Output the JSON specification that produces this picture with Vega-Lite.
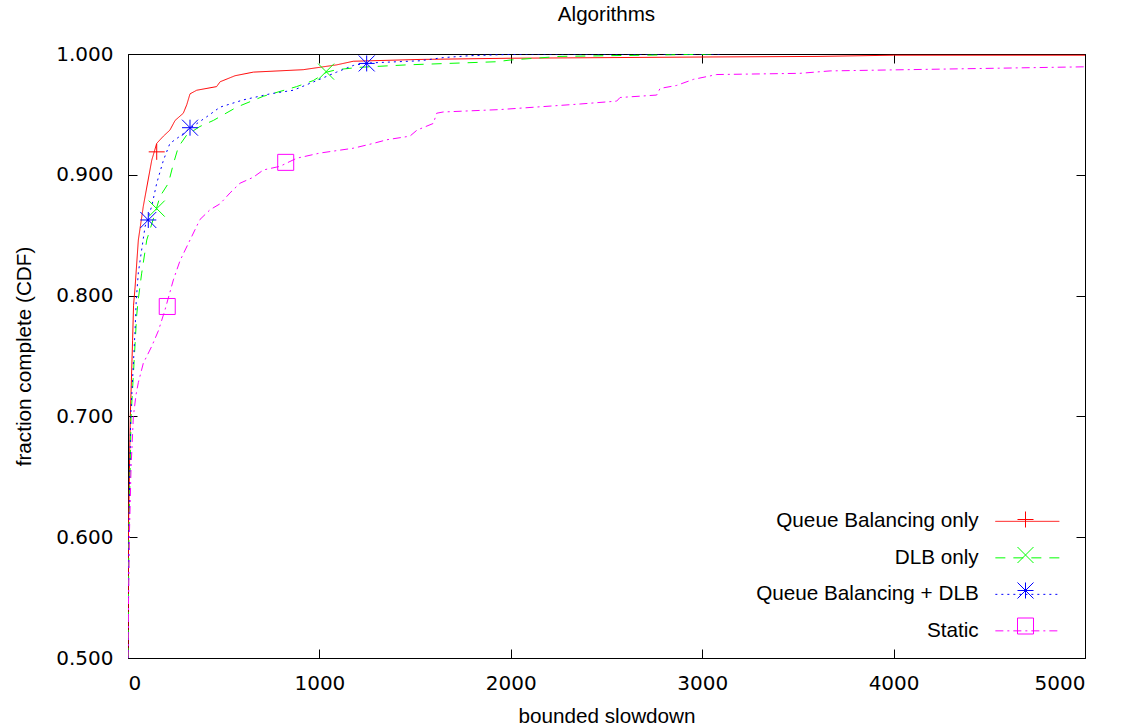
{
  "$schema": "https://vega.github.io/schema/vega-lite/v6.json",
  "width": 957,
  "height": 604,
  "autosize": {"type": "none"},
  "padding": {"left": 128, "top": 54, "right": 37, "bottom": 69},
  "background": "white",
  "title": {"text": "Algorithms", "font": "Liberation Sans", "fontSize": 20.6, "fontWeight": "normal", "color": "black", "baseline": "alphabetic", "offset": 2, "anchor": "middle"},
  "config": {
    "view": {"stroke": "black", "strokeWidth": 1},
    "axis": {"grid": false, "domain": false, "tickColor": "black", "tickWidth": 1, "tickSize": -9, "minExtent": 0, "labelFont": "DejaVu Sans", "labelFontSize": 20, "labelColor": "black", "titleFont": "Liberation Sans", "titleFontSize": 20.7, "titleFontWeight": "normal", "titleColor": "black"}
  },
  "datasets": {
    "curves": [
      {"series": "Queue Balancing only", "x": 0, "y": 0.5},
      {"series": "Queue Balancing only", "x": 2, "y": 0.6},
      {"series": "Queue Balancing only", "x": 12, "y": 0.7},
      {"series": "Queue Balancing only", "x": 24, "y": 0.763},
      {"series": "Queue Balancing only", "x": 29, "y": 0.792},
      {"series": "Queue Balancing only", "x": 37, "y": 0.807},
      {"series": "Queue Balancing only", "x": 54, "y": 0.846},
      {"series": "Queue Balancing only", "x": 80, "y": 0.874},
      {"series": "Queue Balancing only", "x": 124, "y": 0.912},
      {"series": "Queue Balancing only", "x": 150, "y": 0.926},
      {"series": "Queue Balancing only", "x": 185, "y": 0.932},
      {"series": "Queue Balancing only", "x": 219, "y": 0.937},
      {"series": "Queue Balancing only", "x": 246, "y": 0.945},
      {"series": "Queue Balancing only", "x": 289, "y": 0.951},
      {"series": "Queue Balancing only", "x": 307, "y": 0.958},
      {"series": "Queue Balancing only", "x": 324, "y": 0.967},
      {"series": "Queue Balancing only", "x": 359, "y": 0.970},
      {"series": "Queue Balancing only", "x": 463, "y": 0.973},
      {"series": "Queue Balancing only", "x": 481, "y": 0.977},
      {"series": "Queue Balancing only", "x": 559, "y": 0.982},
      {"series": "Queue Balancing only", "x": 655, "y": 0.985},
      {"series": "Queue Balancing only", "x": 915, "y": 0.987},
      {"series": "Queue Balancing only", "x": 1090, "y": 0.991},
      {"series": "Queue Balancing only", "x": 1177, "y": 0.994},
      {"series": "Queue Balancing only", "x": 1526, "y": 0.9955},
      {"series": "Queue Balancing only", "x": 2000, "y": 0.9965},
      {"series": "Queue Balancing only", "x": 3000, "y": 0.9975},
      {"series": "Queue Balancing only", "x": 3600, "y": 0.998},
      {"series": "Queue Balancing only", "x": 4000, "y": 0.999},
      {"series": "Queue Balancing only", "x": 5000, "y": 0.999},
      {"series": "DLB only", "x": 0, "y": 0.5},
      {"series": "DLB only", "x": 5, "y": 0.6},
      {"series": "DLB only", "x": 16, "y": 0.7},
      {"series": "DLB only", "x": 45, "y": 0.783},
      {"series": "DLB only", "x": 53, "y": 0.796},
      {"series": "DLB only", "x": 71, "y": 0.818},
      {"series": "DLB only", "x": 98, "y": 0.846},
      {"series": "DLB only", "x": 141, "y": 0.868},
      {"series": "DLB only", "x": 167, "y": 0.882},
      {"series": "DLB only", "x": 211, "y": 0.893},
      {"series": "DLB only", "x": 237, "y": 0.909},
      {"series": "DLB only", "x": 263, "y": 0.923},
      {"series": "DLB only", "x": 307, "y": 0.933},
      {"series": "DLB only", "x": 376, "y": 0.940},
      {"series": "DLB only", "x": 446, "y": 0.945},
      {"series": "DLB only", "x": 568, "y": 0.956},
      {"series": "DLB only", "x": 707, "y": 0.965},
      {"series": "DLB only", "x": 881, "y": 0.973},
      {"series": "DLB only", "x": 968, "y": 0.978},
      {"series": "DLB only", "x": 1038, "y": 0.985},
      {"series": "DLB only", "x": 1090, "y": 0.987},
      {"series": "DLB only", "x": 1212, "y": 0.989},
      {"series": "DLB only", "x": 1456, "y": 0.991},
      {"series": "DLB only", "x": 1926, "y": 0.9936},
      {"series": "DLB only", "x": 1996, "y": 0.995},
      {"series": "DLB only", "x": 2257, "y": 0.998},
      {"series": "DLB only", "x": 2988, "y": 0.9997},
      {"series": "DLB only", "x": 3050, "y": 1.0},
      {"series": "Queue Balancing + DLB", "x": 0, "y": 0.5},
      {"series": "Queue Balancing + DLB", "x": 4, "y": 0.6},
      {"series": "Queue Balancing + DLB", "x": 14, "y": 0.7},
      {"series": "Queue Balancing + DLB", "x": 37, "y": 0.7715},
      {"series": "Queue Balancing + DLB", "x": 43, "y": 0.796},
      {"series": "Queue Balancing + DLB", "x": 54, "y": 0.819},
      {"series": "Queue Balancing + DLB", "x": 89, "y": 0.857},
      {"series": "Queue Balancing + DLB", "x": 124, "y": 0.874},
      {"series": "Queue Balancing + DLB", "x": 150, "y": 0.893},
      {"series": "Queue Balancing + DLB", "x": 185, "y": 0.912},
      {"series": "Queue Balancing + DLB", "x": 219, "y": 0.926},
      {"series": "Queue Balancing + DLB", "x": 272, "y": 0.932},
      {"series": "Queue Balancing + DLB", "x": 324, "y": 0.9385},
      {"series": "Queue Balancing + DLB", "x": 411, "y": 0.948},
      {"series": "Queue Balancing + DLB", "x": 481, "y": 0.956},
      {"series": "Queue Balancing + DLB", "x": 602, "y": 0.962},
      {"series": "Queue Balancing + DLB", "x": 742, "y": 0.967},
      {"series": "Queue Balancing + DLB", "x": 864, "y": 0.970},
      {"series": "Queue Balancing + DLB", "x": 986, "y": 0.978},
      {"series": "Queue Balancing + DLB", "x": 1090, "y": 0.985},
      {"series": "Queue Balancing + DLB", "x": 1177, "y": 0.9905},
      {"series": "Queue Balancing + DLB", "x": 1247, "y": 0.9925},
      {"series": "Queue Balancing + DLB", "x": 1526, "y": 0.9944},
      {"series": "Queue Balancing + DLB", "x": 1646, "y": 0.997},
      {"series": "Queue Balancing + DLB", "x": 1787, "y": 0.9986},
      {"series": "Queue Balancing + DLB", "x": 1996, "y": 0.9997},
      {"series": "Queue Balancing + DLB", "x": 2100, "y": 1.0},
      {"series": "Queue Balancing + DLB", "x": 3100, "y": 1.0},
      {"series": "Static", "x": 0, "y": 0.5},
      {"series": "Static", "x": 3, "y": 0.55},
      {"series": "Static", "x": 7, "y": 0.6},
      {"series": "Static", "x": 16, "y": 0.658},
      {"series": "Static", "x": 28, "y": 0.70},
      {"series": "Static", "x": 42, "y": 0.718},
      {"series": "Static", "x": 54, "y": 0.728},
      {"series": "Static", "x": 80, "y": 0.744},
      {"series": "Static", "x": 124, "y": 0.758},
      {"series": "Static", "x": 159, "y": 0.771},
      {"series": "Static", "x": 193, "y": 0.788},
      {"series": "Static", "x": 237, "y": 0.813},
      {"series": "Static", "x": 272, "y": 0.829},
      {"series": "Static", "x": 324, "y": 0.846},
      {"series": "Static", "x": 376, "y": 0.863},
      {"series": "Static", "x": 428, "y": 0.871},
      {"series": "Static", "x": 481, "y": 0.876},
      {"series": "Static", "x": 533, "y": 0.885},
      {"series": "Static", "x": 585, "y": 0.893},
      {"series": "Static", "x": 655, "y": 0.898},
      {"series": "Static", "x": 707, "y": 0.904},
      {"series": "Static", "x": 794, "y": 0.907},
      {"series": "Static", "x": 881, "y": 0.9137},
      {"series": "Static", "x": 1003, "y": 0.918},
      {"series": "Static", "x": 1177, "y": 0.922},
      {"series": "Static", "x": 1282, "y": 0.926},
      {"series": "Static", "x": 1352, "y": 0.929},
      {"series": "Static", "x": 1473, "y": 0.932},
      {"series": "Static", "x": 1510, "y": 0.937},
      {"series": "Static", "x": 1595, "y": 0.9425},
      {"series": "Static", "x": 1613, "y": 0.951},
      {"series": "Static", "x": 1647, "y": 0.952},
      {"series": "Static", "x": 1944, "y": 0.954},
      {"series": "Static", "x": 2362, "y": 0.9586},
      {"series": "Static", "x": 2553, "y": 0.961},
      {"series": "Static", "x": 2571, "y": 0.964},
      {"series": "Static", "x": 2762, "y": 0.966},
      {"series": "Static", "x": 2780, "y": 0.9715},
      {"series": "Static", "x": 2867, "y": 0.974},
      {"series": "Static", "x": 2954, "y": 0.979},
      {"series": "Static", "x": 3076, "y": 0.983},
      {"series": "Static", "x": 3511, "y": 0.984},
      {"series": "Static", "x": 3668, "y": 0.986},
      {"series": "Static", "x": 4451, "y": 0.988},
      {"series": "Static", "x": 5000, "y": 0.9894}
    ],
    "markers": [
      {"algo": "Queue Balancing only", "x": 150, "y": 0.919},
      {"algo": "DLB only", "x": 150, "y": 0.872},
      {"algo": "DLB only", "x": 1035, "y": 0.9854},
      {"algo": "Queue Balancing + DLB", "x": 106, "y": 0.8626},
      {"algo": "Queue Balancing + DLB", "x": 324, "y": 0.939},
      {"algo": "Queue Balancing + DLB", "x": 1247, "y": 0.9922},
      {"algo": "Static", "x": 205, "y": 0.791},
      {"algo": "Static", "x": 824, "y": 0.9103}
    ]
  },
  "layer": [
    {
      "data": {"name": "curves"},
      "mark": {"type": "line", "strokeWidth": 1, "clip": true, "interpolate": "linear"},
      "encoding": {
        "x": {"field": "x", "type": "quantitative", "scale": {"domain": [0, 5000], "nice": false},
          "axis": {"orient": "bottom", "values": [0, 1000, 2000, 3000, 4000, 5000], "format": "d", "title": "bounded slowdown", "labelPadding": 24, "titlePadding": 13}},
        "y": {"field": "y", "type": "quantitative", "scale": {"domain": [0.5, 1.0], "nice": false, "zero": false},
          "axis": {"orient": "left", "values": [0.5, 0.6, 0.7, 0.8, 0.9, 1.0], "format": ".3f", "title": "fraction complete (CDF)", "labelPadding": 24, "titlePadding": 21}},
        "color": {"field": "series", "type": "nominal",
          "scale": {"domain": ["Queue Balancing only", "DLB only", "Queue Balancing + DLB", "Static"], "range": ["#ff0000", "#00ff00", "#0000ff", "#ff00ff"]},
          "legend": {"orient": "none", "legendX": 889, "legendY": 457, "title": null, "symbolType": "M-4,0L4,0", "symbolSize": 256, "rowPadding": 14.5, "labelAlign": "right", "labelOffset": -59, "labelFont": "Liberation Sans", "labelFontSize": 20.7, "labelColor": "black", "symbolStrokeWidth": 1, "labelLimit": 500, "padding": 0}},
        "strokeDash": {"field": "series", "type": "nominal",
          "scale": {"domain": ["Queue Balancing only", "DLB only", "Queue Balancing + DLB", "Static"], "range": [[1, 0], [10, 8], [2, 4], [8, 4, 2, 4]]},
          "legend": null}
      }
    },
    {
      "data": {"name": "markers"},
      "mark": {"type": "point", "filled": false, "strokeWidth": 1, "opacity": 1, "size": 256},
      "encoding": {
        "x": {"field": "x", "type": "quantitative", "scale": {"domain": [0, 5000], "nice": false},
          "axis": {"orient": "top", "values": [0, 1000, 2000, 3000, 4000, 5000], "labels": false, "title": null}},
        "y": {"field": "y", "type": "quantitative", "scale": {"domain": [0.5, 1.0], "nice": false, "zero": false},
          "axis": {"orient": "right", "values": [0.5, 0.6, 0.7, 0.8, 0.9, 1.0], "labels": false, "title": null}},
        "stroke": {"field": "algo", "type": "nominal", "sort": null,
          "scale": {"range": ["#ff0000", "#00ff00", "#0000ff", "#ff00ff"]},
          "legend": {"orient": "none", "legendX": 889, "legendY": 457, "title": null, "symbolSize": 256, "rowPadding": 14.5, "labelOpacity": 0, "labelFontSize": 1, "symbolStrokeWidth": 1, "symbolFillColor": "transparent", "symbolOpacity": 1, "padding": 0}},
        "shape": {"field": "algo", "type": "nominal", "sort": null,
          "scale": {"range": ["M-1,0L1,0M0,-1L0,1", "M-1,-1L1,1M-1,1L1,-1", "M-1,0L1,0M0,-1L0,1M-1,-1L1,1M-1,1L1,-1", "square"]},
          "legend": {"orient": "none", "legendX": 889, "legendY": 457, "title": null, "symbolSize": 256, "rowPadding": 14.5, "labelOpacity": 0, "labelFontSize": 1, "symbolStrokeWidth": 1, "symbolFillColor": "transparent", "symbolOpacity": 1, "padding": 0}}
      }
    }
  ],
  "resolve": {"axis": {"x": "independent", "y": "independent"}}
}
